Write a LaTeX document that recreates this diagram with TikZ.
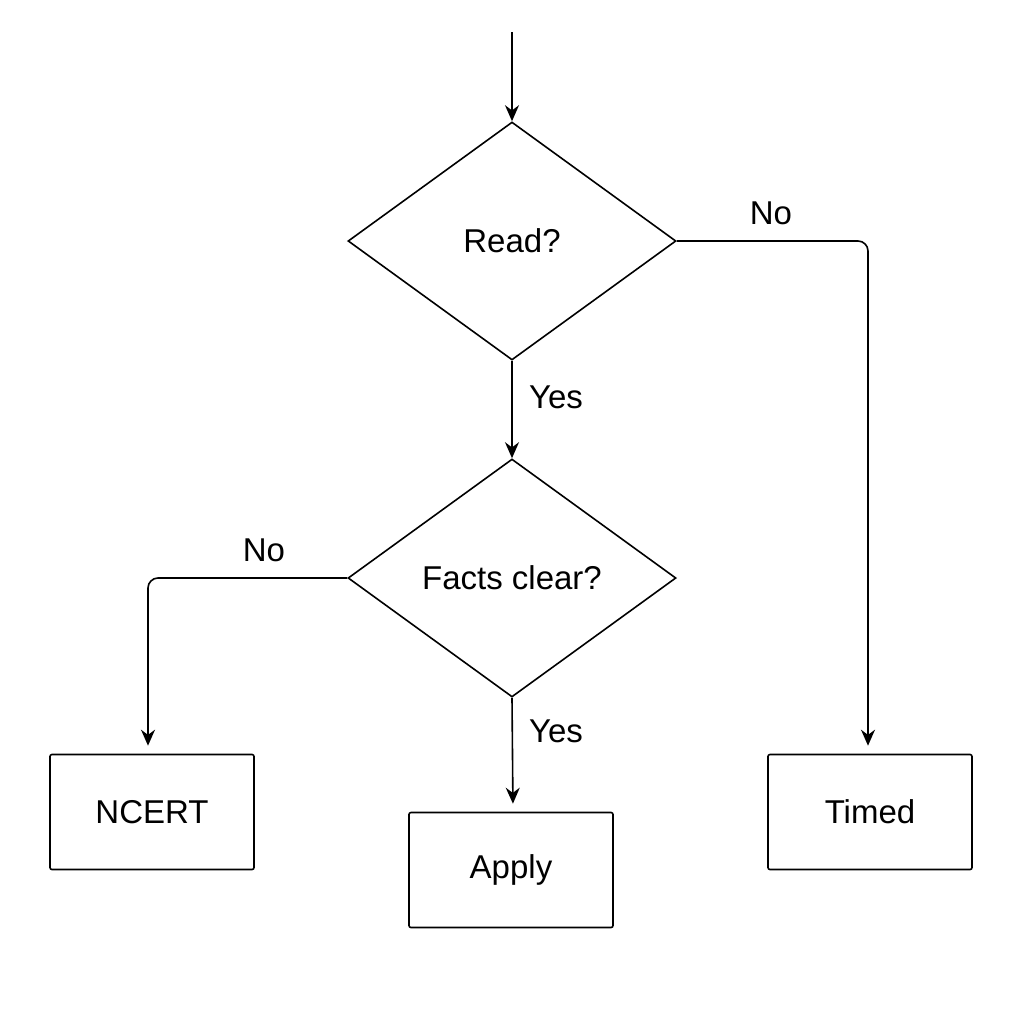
\documentclass[tikz,border=0pt]{standalone}
\usepackage{fontspec}
\setmainfont{Liberation Sans}
\usetikzlibrary{shapes.geometric,arrows.meta}
\begin{document}
\begin{tikzpicture}[x=0.5pt,y=-0.5pt,
  every node/.style={font=\fontsize{16.5}{19}\selectfont},
  dec/.style={diamond,draw,line width=0.8pt,inner sep=0pt,minimum width=164pt,minimum height=119pt},
  box/.style={rectangle,draw,line width=0.8pt,rounded corners=1pt,minimum width=102pt,minimum height=57.5pt},
  arr/.style={line width=0.8pt,-{Stealth[length=8pt,width=7pt]},rounded corners=5pt,shorten >=4pt},
  lbl/.style={inner sep=0pt}]
\useasboundingbox (0,0) rectangle (1024,1024);
\fill[white] (0,0) rectangle (1024,1024);
\coordinate (start) at (512,32);
\node[dec] (read) at (512,241) {Read?};
\node[dec] (facts) at (512,578) {Facts clear?};
\node[box] (ncert) at (152,812) {NCERT};
\node[box] (apply) at (511,870) {Apply};
\node[box] (timed) at (870,812) {Timed};
\draw[arr,shorten >=0pt] (start) -- (read.north);
\draw[arr,shorten >=0pt] (read.south) -- (facts.north);
\draw[arr] (read.east) -- (868,241) -- ([xshift=-1pt]timed.north);
\draw[arr] (facts.west) -- (148,578) -- ([xshift=-2pt]ncert.north);
\draw[arr] (facts.south) -- ([xshift=1pt]apply.north);
\node[lbl] (l1) at (771,213) {No};
\node[lbl] (l2) at (556,397) {Yes};
\node[lbl] (l3) at (264,550) {No};
\node[lbl] (l4) at (556,731) {Yes};
\end{tikzpicture}
\end{document}
